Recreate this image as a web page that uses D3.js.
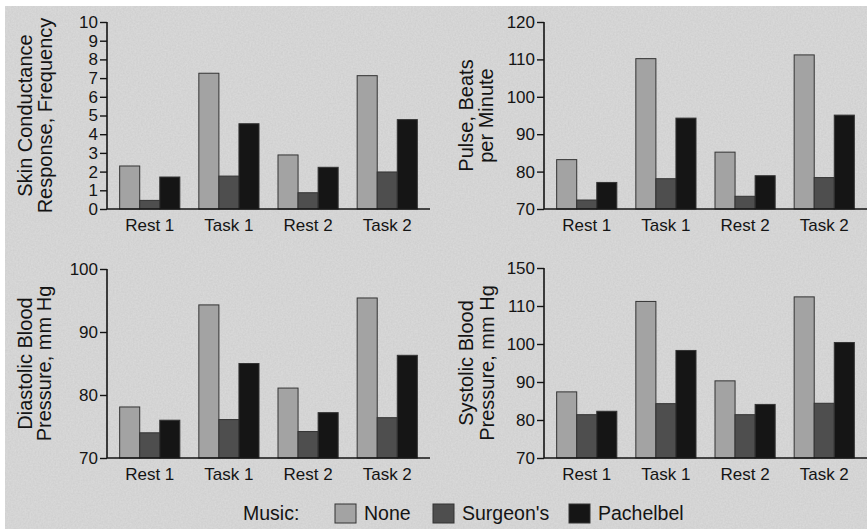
<!DOCTYPE html>
<html>
<head>
<meta charset="utf-8">
<script src="https://cdn.jsdelivr.net/npm/d3@7"></script>
<style>
  html, body { margin: 0; padding: 0; background: #fff; }
  svg { display: block; }
  text { font-family: "Liberation Sans", Arial, Helvetica, sans-serif; fill: #141414; }
</style>
</head>
<body>
<div id="chart"></div>
<script>
// categories + series
const categories = ["Rest 1", "Task 1", "Rest 2", "Task 2"];
const series = ["None", "Surgeon's", "Pachelbel"];
const seriesColors = ["#a3a3a3", "#4e4e4e", "#151515"];

// skin conductance response (frequency)
const scrNone = [2.3, 7.26, 2.89, 7.13];
const scrSurgeon = [0.46, 1.76, 0.87, 1.98];
const scrPachelbel = [1.71, 4.56, 2.23, 4.78];
const scrTicks = [0, 1, 2, 3, 4, 5, 6, 7, 8, 9, 10];

// pulse, beats per minute
const pulseNone = [83.2, 110.2, 85.2, 111.2];
const pulseSurgeon = [72.4, 78.1, 73.4, 78.4];
const pulsePachelbel = [77.1, 94.3, 78.9, 95.1];
const pulseTicks = [70, 80, 90, 100, 110, 120];

// diastolic blood pressure
const dbpNone = [78.1, 94.3, 81.1, 95.4];
const dbpSurgeon = [74.0, 76.1, 74.2, 76.4];
const dbpPachelbel = [76.0, 85.0, 77.2, 86.3];
const dbpTicks = [70, 80, 90, 100];

// systolic blood pressure (axis is broken: top tick reads 150)
const sbpNone = [87.4, 111.2, 90.3, 112.4];
const sbpSurgeon = [81.4, 84.3, 81.4, 84.4];
const sbpPachelbel = [82.3, 98.3, 84.1, 100.4];
const sbpTicks = [70, 80, 90, 100, 110, 120];
const sbpTickLabels = ["70", "80", "90", "100", "110", "150"];

const width = 867;
const height = 529;

const svg = d3.select('#chart')
  .append('svg')
  .attr('width', width)
  .attr('height', height);

// paper texture
const defs = svg.append('defs');
const f = defs.append('filter').attr('id', 'paper').attr('x', 0).attr('y', 0).attr('width', 1).attr('height', 1);
f.append('feTurbulence').attr('type', 'fractalNoise').attr('baseFrequency', 0.6).attr('numOctaves', 2).attr('seed', 4).attr('result', 'noise');
f.append('feColorMatrix').attr('in', 'noise').attr('type', 'matrix')
  .attr('values', '0 0 0 0 0  0 0 0 0 0  0 0 0 0 0  0 0 0 0.07 0');

svg.append('rect').attr('x', 5).attr('y', 6).attr('width', width - 5).attr('height', height - 6)
  .attr('fill', '#dcdcdc');
svg.append('rect').attr('x', 5).attr('y', 6).attr('width', width - 5).attr('height', height - 6)
  .attr('fill', '#dcdcdc').attr('filter', 'url(#paper)');

const panels = [
  { left: 107, right: 430, top: 22, bottom: 209, domain: [0, 10], ticks: scrTicks, labels: null,
    values: [scrNone, scrSurgeon, scrPachelbel],
    title: ["Skin Conductance", "Response, Frequency"], titleX: [32, 52] },
  { left: 544, right: 867, top: 22, bottom: 209, domain: [70, 120], ticks: pulseTicks, labels: null,
    values: [pulseNone, pulseSurgeon, pulsePachelbel],
    title: ["Pulse, Beats", "per Minute"], titleX: [473, 493] },
  { left: 107, right: 430, top: 269, bottom: 458, domain: [70, 100], ticks: dbpTicks, labels: null,
    values: [dbpNone, dbpSurgeon, dbpPachelbel],
    title: ["Diastolic Blood", "Pressure, mm Hg"], titleX: [32, 51] },
  { left: 544, right: 867, top: 268, bottom: 458, domain: [70, 120], ticks: sbpTicks, labels: sbpTickLabels,
    values: [sbpNone, sbpSurgeon, sbpPachelbel],
    title: ["Systolic Blood", "Pressure, mm Hg"], titleX: [473, 494] }
];

panels.forEach(p => {
  const g = svg.append('g');

  const x = d3.scaleBand()
    .domain(categories)
    .range([p.left, p.right])
    .paddingInner(0.24)
    .paddingOuter(0.16);

  const xs = d3.scaleBand()
    .domain(series)
    .range([0, x.bandwidth()]);

  const y = d3.scaleLinear().domain(p.domain).range([p.bottom, p.top]);

  // bars
  series.forEach((s, si) => {
    g.append('g')
      .selectAll('rect')
      .data(categories)
      .join('rect')
      .attr('x', d => x(d) + xs(s))
      .attr('y', (d, i) => y(p.values[si][i]))
      .attr('width', xs.bandwidth())
      .attr('height', (d, i) => p.bottom - y(p.values[si][i]))
      .attr('fill', seriesColors[si])
      .attr('stroke', '#333')
      .attr('stroke-width', 1);
  });

  // y axis
  const yAxis = d3.axisLeft(y)
    .tickValues(p.ticks)
    .tickSize(7)
    .tickPadding(2)
    .tickFormat((d, i) => p.labels ? p.labels[i] : d);

  const ya = g.append('g')
    .attr('transform', `translate(${p.left}, 0)`)
    .call(yAxis);
  ya.select('.domain').attr('stroke', '#141414').attr('stroke-width', 1.6).attr('d', `M0,${p.top}V${p.bottom}`);
  ya.selectAll('.tick line').attr('stroke', '#141414').attr('stroke-width', 1.4);
  ya.selectAll('.tick text').attr('font-size', 17).attr('fill', '#141414')
    .attr('font-family', '"Liberation Sans", Arial, sans-serif');

  // x axis
  const xAxis = d3.axisBottom(x).tickSize(0).tickPadding(10);
  const xa = g.append('g')
    .attr('transform', `translate(0, ${p.bottom})`)
    .call(xAxis);
  xa.select('.domain').attr('stroke', '#141414').attr('stroke-width', 1.6).attr('d', `M${p.left},0H${p.right}`);
  xa.selectAll('.tick text').attr('font-size', 17).attr('fill', '#141414')
    .attr('font-family', '"Liberation Sans", Arial, sans-serif');

  // y title, two lines
  const cy = (p.top + p.bottom) / 2;
  p.title.forEach((t, i) => {
    g.append('text')
      .attr('transform', `translate(${p.titleX[i]}, ${cy}) rotate(-90)`)
      .attr('text-anchor', 'middle')
      .attr('font-size', 20)
      .text(t);
  });
});

// legend
const legend = svg.append('g');
legend.append('text').attr('x', 243).attr('y', 520).attr('font-size', 19.5).text('Music:');
const legendX = [335, 433, 569];
series.forEach((s, i) => {
  legend.append('rect')
    .attr('x', legendX[i]).attr('y', 504)
    .attr('width', 21).attr('height', 19)
    .attr('fill', seriesColors[i])
    .attr('stroke', '#333').attr('stroke-width', 1);
  legend.append('text')
    .attr('x', legendX[i] + 29).attr('y', 520)
    .attr('font-size', 19.5)
    .text(s);
});
</script>
</body>
</html>
